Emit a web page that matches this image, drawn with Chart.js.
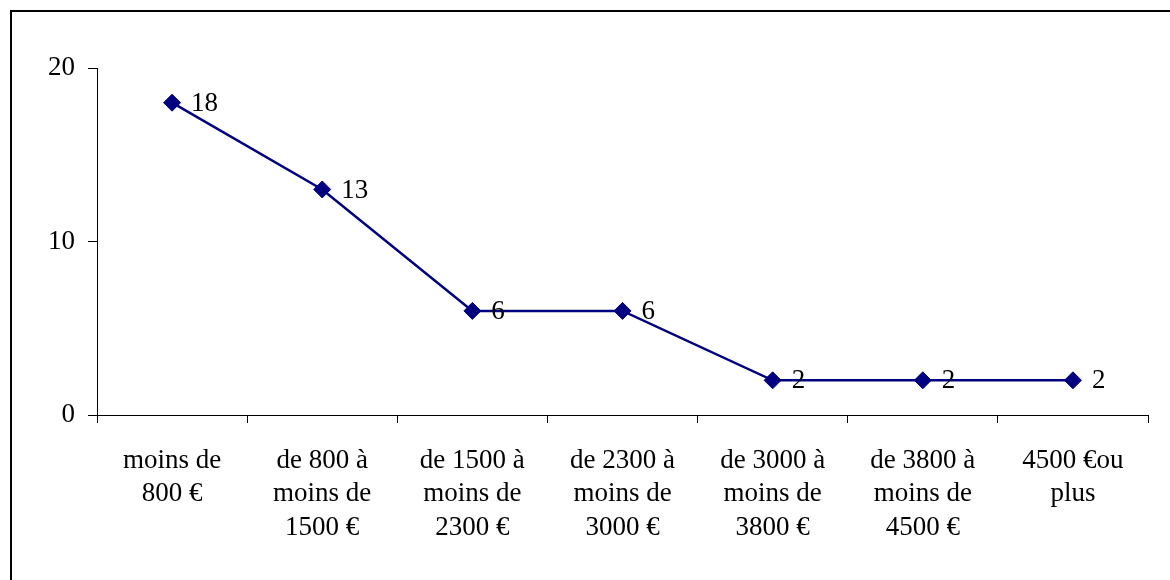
<!DOCTYPE html>
<html>
<head>
<meta charset="utf-8">
<script src="https://cdn.jsdelivr.net/npm/chart.js@4"></script>
<style>
    body { margin: 0; background: #fff; overflow: hidden; }
    #wrap { position: relative; width: 1170px; height: 580px; }
    #frame {
        position: absolute; left: 10px; top: 10px; width: 1200px; height: 600px;
        border-left: 2px solid #000; border-top: 2px solid #000;
    }
    canvas { position: absolute; left: 0; top: 0; }
</style>
</head>
<body>
<div id="wrap">
    <div id="frame"></div>
    <canvas id="chart" width="1170" height="580"></canvas>
</div>
<script>
// Tranches de revenu (libellés sur plusieurs lignes)
const categories = [
    ['moins de', '800 €'],
    ['de 800 à', 'moins de', '1500 €'],
    ['de 1500 à', 'moins de', '2300 €'],
    ['de 2300 à', 'moins de', '3000 €'],
    ['de 3000 à', 'moins de', '3800 €'],
    ['de 3800 à', 'moins de', '4500 €'],
    ['4500 €ou', 'plus']
];
const values = [18, 13, 6, 6, 2, 2, 2];
const yTicks = [0, 10, 20];

const serif = "'Liberation Serif', 'Times New Roman', serif";
const navy = '#000080';

// Étiquettes de valeur à droite des points
const valueLabels = {
    id: 'valueLabels',
    afterDatasetsDraw(chart) {
        const ctx = chart.ctx;
        const meta = chart.getDatasetMeta(0);
        ctx.save();
        ctx.font = '27px ' + serif;
        ctx.fillStyle = '#000';
        ctx.textAlign = 'left';
        ctx.textBaseline = 'middle';
        meta.data.forEach((pt, i) => {
            ctx.fillText(String(values[i]), pt.x + 19, pt.y + 1);
        });
        ctx.restore();
    }
};

new Chart(document.getElementById('chart').getContext('2d'), {
    type: 'line',
    data: {
        labels: categories,
        datasets: [{
            data: values,
            borderColor: navy,
            borderWidth: 2.5,
            backgroundColor: navy,
            pointStyle: 'rectRot',
            pointRadius: 8.5,
            pointBorderWidth: 1,
            pointBorderColor: navy,
            pointBackgroundColor: navy,
            tension: 0,
            fill: false
        }]
    },
    options: {
        responsive: false,
        animation: false,
        layout: { padding: { top: 68, right: 22, left: 0, bottom: 0 } },
        plugins: {
            legend: { display: false },
            tooltip: { enabled: false }
        },
        scales: {
            x: {
                offset: true,
                afterFit(scale) { scale.height = 165; },
                grid: {
                    offset: true,
                    drawOnChartArea: false,
                    drawTicks: true,
                    tickLength: 8,
                    color: '#000'
                },
                border: { display: true, color: '#000', width: 1 },
                ticks: {
                    maxRotation: 0,
                    autoSkip: false,
                    padding: 21,
                    color: '#000',
                    font: { family: serif, size: 27, lineHeight: 1.24 }
                }
            },
            y: {
                min: 0,
                max: 20,
                afterFit(scale) { scale.width = 97; },
                afterBuildTicks(scale) { scale.ticks = yTicks.map(v => ({ value: v })); },
                grid: {
                    drawOnChartArea: false,
                    drawTicks: true,
                    tickLength: 9,
                    color: '#000'
                },
                border: { display: true, color: '#000', width: 1 },
                ticks: {
                    padding: 13,
                    color: '#000',
                    font: { family: serif, size: 27 }
                }
            }
        }
    },
    plugins: [valueLabels]
});
</script>
</body>
</html>
